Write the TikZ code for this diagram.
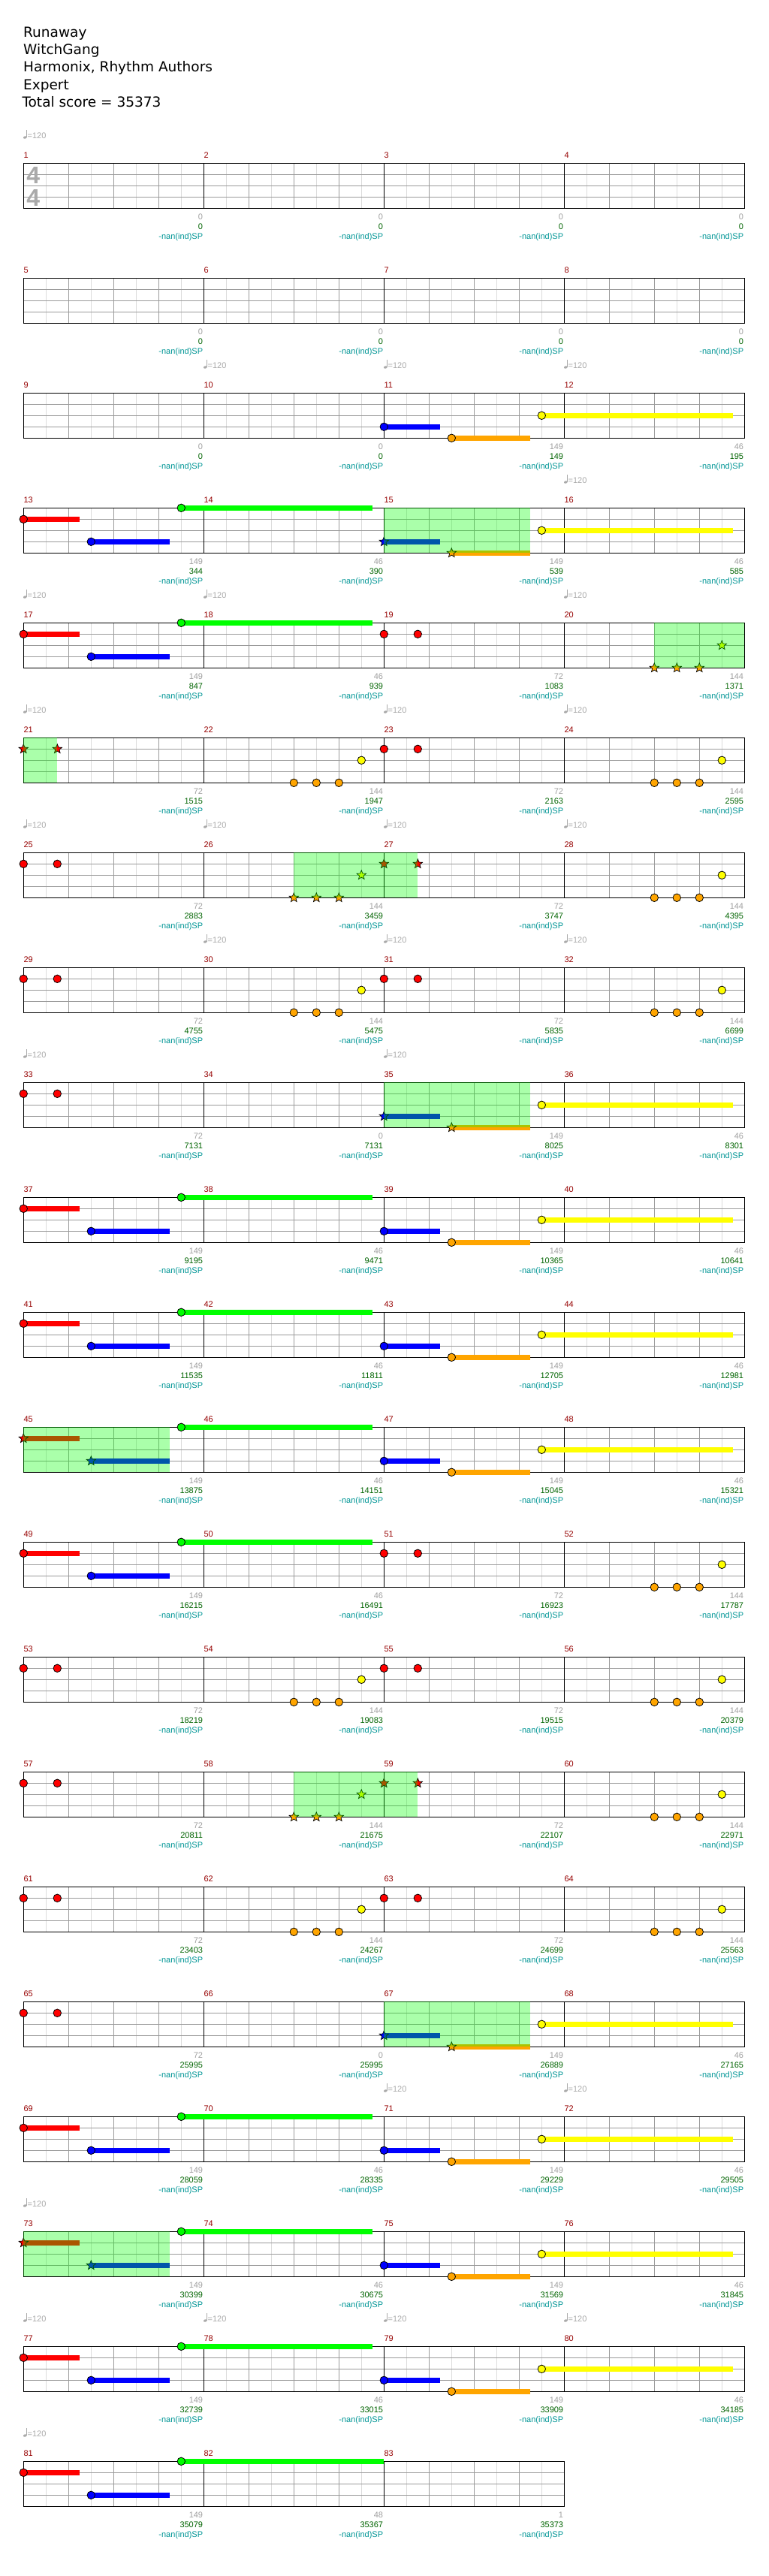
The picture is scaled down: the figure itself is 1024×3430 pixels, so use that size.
\documentclass[tikz,border=0pt]{standalone}
\usepackage{fontspec}
\setmainfont{Liberation Sans}
\newfontfamily\titlefont{DejaVu Sans}
\usetikzlibrary{shapes.geometric}

\definecolor{mnumc}{RGB}{150,0,0}
\definecolor{sgrayc}{RGB}{160,160,160}
\definecolor{sgreenc}{RGB}{0,100,0}
\definecolor{stealc}{RGB}{0,150,150}
\definecolor{tempoc}{RGB}{170,170,170}
\definecolor{gridlc}{RGB}{220,220,220}
\definecolor{griddc}{RGB}{155,155,155}
\definecolor{nred}{RGB}{255,0,0}
\definecolor{ngreen}{RGB}{0,255,0}
\definecolor{nyellow}{RGB}{255,255,0}
\definecolor{nblue}{RGB}{0,0,255}
\definecolor{norange}{RGB}{255,165,0}

\newcount\notecnt
\tikzset{
  notehead/.style={circle, draw=black, line width=0.8pt, minimum size=10.5pt, inner sep=0pt},
  starhead/.style={star, star points=5, star point ratio=2.3, draw=black, line width=0.7pt, minimum size=13pt, inner sep=0pt},
  gridlite/.style={gridlc, line width=1pt},
  griddark/.style={griddc, line width=1pt},
  smallfont/.style={font=\fontsize{11}{13}\selectfont, inner sep=0pt},
  mnumsty/.style={smallfont, text=mnumc, anchor=base west},
  sgraysty/.style={smallfont, text=sgrayc, anchor=base east},
  sgreensty/.style={smallfont, text=sgreenc, anchor=base east},
  stealsty/.style={smallfont, text=stealc, anchor=base east},
  temposty/.style={smallfont, text=tempoc, anchor=base west},
  titlesty/.style={font=\titlefont\fontsize{18.5}{22}\selectfont, inner sep=0pt, anchor=base west},
  tsigsty/.style={font=\fontsize{32}{32}\selectfont\bfseries, text=tempoc, inner sep=0pt}
}

\newcommand\StaffGrid[1]{%
  \pgfmathtruncatemacro\gNE{8*#1-1}%
  \pgfmathtruncatemacro\gNB{4*#1-1}%
  \pgfmathtruncatemacro\gNM{#1-1}%
  \foreach \i in {1,3,...,\gNE} {\draw[gridlite] (30*\i,0) -- (30*\i,60);}
  \foreach \y in {15,30,45} {\draw[griddark] (0,\y) -- (240*#1,\y);}
  \foreach \i in {1,...,\gNB} {\draw[griddark] (60*\i,0) -- (60*\i,60);}
  \foreach \i in {1,...,\gNM} {\draw[black, line width=1pt] (240*\i,0) -- (240*\i,60);}
  \draw[black, line width=1.2pt] (0,0) rectangle (240*#1,60);}

\newcommand\NoteC[3]{\global\advance\notecnt by 1 \node[notehead, fill=#1] (n\the\notecnt) at ({60*(#2)},#3) {};}
\newcommand\NoteS[3]{\global\advance\notecnt by 1 \node[starhead, fill=#1] (n\the\notecnt) at ({60*(#2)},#3) {};}
\newcommand\SusBar[4]{\fill[#1] ({60*(#2)},#4-3.5) rectangle ({60*(#3)},#4+3.5);}
\newcommand\SPzone[2]{\fill[ngreen, opacity=0.333] ({60*(#1)},0) rectangle ({60*(#2)},60);}

\newcommand\PatA{%
  \SusBar{nred}{0}{1.245}{15}\SusBar{nblue}{1.5}{3.245}{45}\SusBar{ngreen}{3.5}{7.745}{0}%
  \NoteC{nred}{0}{15}\NoteC{nblue}{1.5}{45}\NoteC{ngreen}{3.5}{0}}
\newcommand\PatAsp{%
  \SusBar{nred}{0}{1.245}{15}\SusBar{nblue}{1.5}{3.245}{45}\SusBar{ngreen}{3.5}{7.745}{0}%
  \NoteS{nred}{0}{15}\NoteS{nblue}{1.5}{45}\NoteC{ngreen}{3.5}{0}\SPzone{0}{3.245}}
\newcommand\PatB{%
  \SusBar{nblue}{8}{9.245}{45}\SusBar{norange}{9.5}{11.245}{60}\SusBar{nyellow}{11.5}{15.745}{30}%
  \NoteC{nblue}{8}{45}\NoteC{norange}{9.5}{60}\NoteC{nyellow}{11.5}{30}}
\newcommand\PatBsp{%
  \SusBar{nblue}{8}{9.245}{45}\SusBar{norange}{9.5}{11.245}{60}\SusBar{nyellow}{11.5}{15.745}{30}%
  \NoteS{nblue}{8}{45}\NoteS{norange}{9.5}{60}\NoteC{nyellow}{11.5}{30}\SPzone{8}{11.245}}
\newcommand\HalfC[1]{%
  \NoteC{nred}{#1}{15}\NoteC{nred}{#1+0.75}{15}%
  \NoteC{norange}{#1+6}{60}\NoteC{norange}{#1+6.5}{60}\NoteC{norange}{#1+7}{60}%
  \NoteC{nyellow}{#1+7.5}{30}}
\newcommand\HalfCsp{%
  \NoteS{norange}{6}{60}\NoteS{norange}{6.5}{60}\NoteS{norange}{7}{60}%
  \NoteS{nyellow}{7.5}{30}\NoteS{nred}{8}{15}\NoteS{nred}{8.75}{15}\SPzone{6}{8.75}}
\newcommand\TailC{%
  \NoteC{norange}{14}{60}\NoteC{norange}{14.5}{60}\NoteC{norange}{15}{60}\NoteC{nyellow}{15.5}{30}}

\newcommand\MLab[4]{%
  \node[mnumsty] (mn#2) at (240*#1,-7) {#2};
  \node[sgraysty] (sg#2) at (240*#1+239,75.5) {#3};
  \node[sgreensty] (sc#2) at (240*#1+239,88.4) {#4};
  \node[stealsty] (sp#2) at (240*#1+239,100.7) {-nan(ind)SP};}
\newcommand\Tempo[2]{%
  \fill[tempoc, rotate around={20:(240*#1+2,-34.3)}] (240*#1+2,-34.3) ellipse (2.4 and 1.7);
  \draw[tempoc, line width=0.9pt] (240*#1+4,-34.3) -- (240*#1+4,-44.3);
  \node[temposty] (tp#2) at (240*#1+5.2,-33) {=120};}

\begin{document}
\begin{tikzpicture}[x=1pt,y=-1pt]
\fill[white] (0,0) rectangle (1024,3430);
\useasboundingbox (0,0) rectangle (1024,3430);

\node[titlesty] (title1) at (31,49) {Runaway};
\node[titlesty] (title2) at (31,72.3) {WitchGang};
\node[titlesty] (title3) at (31,95.7) {Harmonix, Rhythm Authors};
\node[titlesty] (title4) at (31,119) {Expert};
\node[titlesty] (title5) at (29.3,142.3) {Total score = 35373};

% Row 1: 1-4
\begin{scope}[shift={(31.3,217.3)}]
\StaffGrid{4}
\node[tsigsty] (tsig1) at (13,16) {4};
\node[tsigsty] (tsig2) at (13,46) {4};
\Tempo{0}{1}
\MLab{0}{1}{0}{0}\MLab{1}{2}{0}{0}\MLab{2}{3}{0}{0}\MLab{3}{4}{0}{0}
\end{scope}

% Row 2: 5-8
\begin{scope}[shift={(31.3,370.3)}]
\StaffGrid{4}
\MLab{0}{5}{0}{0}\MLab{1}{6}{0}{0}\MLab{2}{7}{0}{0}\MLab{3}{8}{0}{0}
\end{scope}

% Row 3: 9-12
\begin{scope}[shift={(31.3,523.3)}]
\StaffGrid{4}
\PatB
\Tempo{1}{10}\Tempo{2}{11}\Tempo{3}{12}
\MLab{0}{9}{0}{0}\MLab{1}{10}{0}{0}\MLab{2}{11}{149}{149}\MLab{3}{12}{46}{195}
\end{scope}

% Row 4: 13-16
\begin{scope}[shift={(31.3,676.3)}]
\StaffGrid{4}
\PatA\PatBsp
\Tempo{3}{16}
\MLab{0}{13}{149}{344}\MLab{1}{14}{46}{390}\MLab{2}{15}{149}{539}\MLab{3}{16}{46}{585}
\end{scope}

% Row 5: 17-20
\begin{scope}[shift={(31.3,829.3)}]
\StaffGrid{4}
\PatA
\NoteC{nred}{8}{15}\NoteC{nred}{8.75}{15}
\NoteS{norange}{14}{60}\NoteS{norange}{14.5}{60}\NoteS{norange}{15}{60}\NoteS{nyellow}{15.5}{30}
\SPzone{14}{16}
\Tempo{0}{17}\Tempo{1}{18}\Tempo{3}{20}
\MLab{0}{17}{149}{847}\MLab{1}{18}{46}{939}\MLab{2}{19}{72}{1083}\MLab{3}{20}{144}{1371}
\end{scope}

% Row 6: 21-24
\begin{scope}[shift={(31.3,982.3)}]
\StaffGrid{4}
\NoteS{nred}{0}{15}\NoteS{nred}{0.75}{15}\SPzone{0}{0.75}
\NoteC{norange}{6}{60}\NoteC{norange}{6.5}{60}\NoteC{norange}{7}{60}\NoteC{nyellow}{7.5}{30}
\HalfC{8}
\Tempo{0}{21}\Tempo{2}{23}\Tempo{3}{24}
\MLab{0}{21}{72}{1515}\MLab{1}{22}{144}{1947}\MLab{2}{23}{72}{2163}\MLab{3}{24}{144}{2595}
\end{scope}

% Row 7: 25-28
\begin{scope}[shift={(31.3,1135.3)}]
\StaffGrid{4}
\NoteC{nred}{0}{15}\NoteC{nred}{0.75}{15}
\HalfCsp\TailC
\Tempo{0}{25}\Tempo{1}{26}\Tempo{2}{27}\Tempo{3}{28}
\MLab{0}{25}{72}{2883}\MLab{1}{26}{144}{3459}\MLab{2}{27}{72}{3747}\MLab{3}{28}{144}{4395}
\end{scope}

% Row 8: 29-32
\begin{scope}[shift={(31.3,1288.3)}]
\StaffGrid{4}
\HalfC{0}\HalfC{8}
\Tempo{1}{30}\Tempo{2}{31}\Tempo{3}{32}
\MLab{0}{29}{72}{4755}\MLab{1}{30}{144}{5475}\MLab{2}{31}{72}{5835}\MLab{3}{32}{144}{6699}
\end{scope}

% Row 9: 33-36
\begin{scope}[shift={(31.3,1441.3)}]
\StaffGrid{4}
\NoteC{nred}{0}{15}\NoteC{nred}{0.75}{15}
\PatBsp
\Tempo{0}{33}\Tempo{2}{35}
\MLab{0}{33}{72}{7131}\MLab{1}{34}{0}{7131}\MLab{2}{35}{149}{8025}\MLab{3}{36}{46}{8301}
\end{scope}

% Row 10: 37-40
\begin{scope}[shift={(31.3,1594.3)}]
\StaffGrid{4}
\PatA\PatB
\MLab{0}{37}{149}{9195}\MLab{1}{38}{46}{9471}\MLab{2}{39}{149}{10365}\MLab{3}{40}{46}{10641}
\end{scope}

% Row 11: 41-44
\begin{scope}[shift={(31.3,1747.3)}]
\StaffGrid{4}
\PatA\PatB
\MLab{0}{41}{149}{11535}\MLab{1}{42}{46}{11811}\MLab{2}{43}{149}{12705}\MLab{3}{44}{46}{12981}
\end{scope}

% Row 12: 45-48
\begin{scope}[shift={(31.3,1900.3)}]
\StaffGrid{4}
\PatAsp\PatB
\MLab{0}{45}{149}{13875}\MLab{1}{46}{46}{14151}\MLab{2}{47}{149}{15045}\MLab{3}{48}{46}{15321}
\end{scope}

% Row 13: 49-52
\begin{scope}[shift={(31.3,2053.3)}]
\StaffGrid{4}
\PatA
\NoteC{nred}{8}{15}\NoteC{nred}{8.75}{15}\TailC
\MLab{0}{49}{149}{16215}\MLab{1}{50}{46}{16491}\MLab{2}{51}{72}{16923}\MLab{3}{52}{144}{17787}
\end{scope}

% Row 14: 53-56
\begin{scope}[shift={(31.3,2206.3)}]
\StaffGrid{4}
\HalfC{0}\HalfC{8}
\MLab{0}{53}{72}{18219}\MLab{1}{54}{144}{19083}\MLab{2}{55}{72}{19515}\MLab{3}{56}{144}{20379}
\end{scope}

% Row 15: 57-60
\begin{scope}[shift={(31.3,2359.3)}]
\StaffGrid{4}
\NoteC{nred}{0}{15}\NoteC{nred}{0.75}{15}
\HalfCsp\TailC
\MLab{0}{57}{72}{20811}\MLab{1}{58}{144}{21675}\MLab{2}{59}{72}{22107}\MLab{3}{60}{144}{22971}
\end{scope}

% Row 16: 61-64
\begin{scope}[shift={(31.3,2512.3)}]
\StaffGrid{4}
\HalfC{0}\HalfC{8}
\MLab{0}{61}{72}{23403}\MLab{1}{62}{144}{24267}\MLab{2}{63}{72}{24699}\MLab{3}{64}{144}{25563}
\end{scope}

% Row 17: 65-68
\begin{scope}[shift={(31.3,2665.3)}]
\StaffGrid{4}
\NoteC{nred}{0}{15}\NoteC{nred}{0.75}{15}
\PatBsp
\MLab{0}{65}{72}{25995}\MLab{1}{66}{0}{25995}\MLab{2}{67}{149}{26889}\MLab{3}{68}{46}{27165}
\end{scope}

% Row 18: 69-72
\begin{scope}[shift={(31.3,2818.3)}]
\StaffGrid{4}
\PatA\PatB
\Tempo{2}{71}\Tempo{3}{72}
\MLab{0}{69}{149}{28059}\MLab{1}{70}{46}{28335}\MLab{2}{71}{149}{29229}\MLab{3}{72}{46}{29505}
\end{scope}

% Row 19: 73-76
\begin{scope}[shift={(31.3,2971.3)}]
\StaffGrid{4}
\PatAsp\PatB
\Tempo{0}{73}
\MLab{0}{73}{149}{30399}\MLab{1}{74}{46}{30675}\MLab{2}{75}{149}{31569}\MLab{3}{76}{46}{31845}
\end{scope}

% Row 20: 77-80
\begin{scope}[shift={(31.3,3124.3)}]
\StaffGrid{4}
\PatA\PatB
\Tempo{0}{77}\Tempo{1}{78}\Tempo{2}{79}\Tempo{3}{80}
\MLab{0}{77}{149}{32739}\MLab{1}{78}{46}{33015}\MLab{2}{79}{149}{33909}\MLab{3}{80}{46}{34185}
\end{scope}

% Row 21: 81-83
\begin{scope}[shift={(31.3,3277.3)}]
\StaffGrid{3}
\SusBar{nred}{0}{1.245}{15}\SusBar{nblue}{1.5}{3.245}{45}\SusBar{ngreen}{3.5}{7.99}{0}
\NoteC{nred}{0}{15}\NoteC{nblue}{1.5}{45}\NoteC{ngreen}{3.5}{0}
\Tempo{0}{81}
\MLab{0}{81}{149}{35079}\MLab{1}{82}{48}{35367}\MLab{2}{83}{1}{35373}
\end{scope}
\end{tikzpicture}
\end{document}
